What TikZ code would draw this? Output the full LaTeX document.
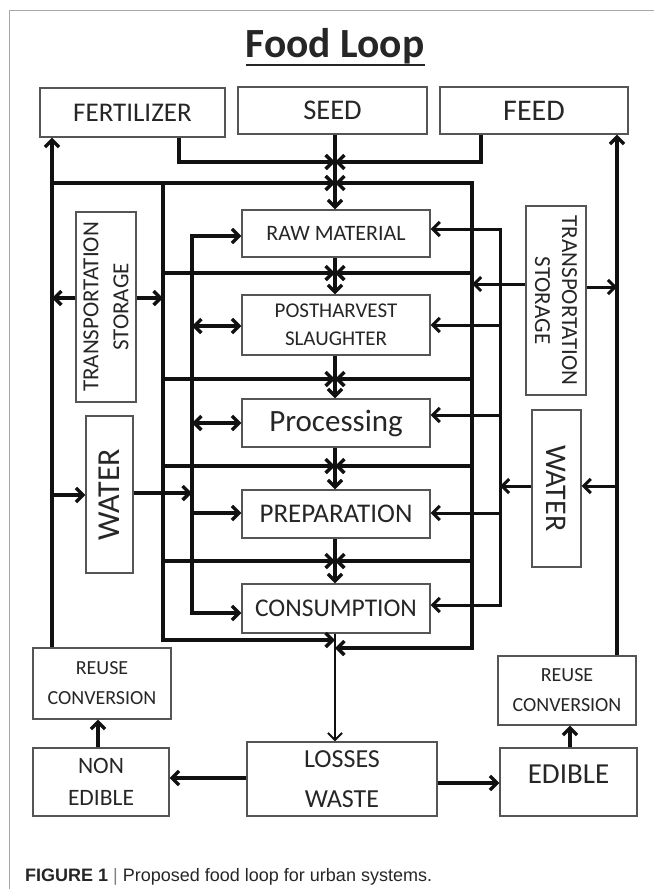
\documentclass[tikz,border=0pt]{standalone}
\usepackage{fontspec}
\setmainfont{Carlito}
\newfontfamily\capfont{Liberation Sans}
\usetikzlibrary{arrows.meta}
\definecolor{boxgray}{HTML}{555555}
\definecolor{txt}{HTML}{262626}
\definecolor{framegray}{HTML}{A8A8A8}
\definecolor{ink}{HTML}{111111}
\begin{document}
\begin{tikzpicture}[x=1pt,y=-1pt,
  >={Straight Barb[length=7pt,width=14pt]},
  box/.style={draw=boxgray,line width=1.3pt,inner sep=0pt,text=txt,align=center},
  lbl/.style={text=txt,align=center,inner sep=0pt},
  conn/.style={draw=ink,line width=3.4pt,line join=miter},
  conntwo/.style={draw=ink,line width=3pt,line join=miter},
  connthin/.style={draw=ink,line width=2pt},
  fs/.style n args={2}{font=\fontsize{#1}{#2}\selectfont},
]
\useasboundingbox (0,0) rectangle (654,889);
\draw[framegray,line width=1pt] (654,10) -- (9.5,10) -- (9.5,889);

% title
\node[lbl,inner sep=0pt,font=\fontsize{41.5}{44}\selectfont\bfseries] (title) at (335,46) {Food Loop};
\draw[txt,line width=2.6pt] (title.south west |- 0,65) -- (title.south east |- 0,65);

% top row
\node[box,minimum width=185,minimum height=49,fs={27}{30}] (fert) at (132.5,112.5) {FERTILIZER};
\node[box,minimum width=189,minimum height=47,fs={28.5}{30}] (seed) at (332.5,110.5) {SEED};
\node[box,minimum width=188,minimum height=47,fs={30}{30}] (feed) at (534,110.5) {FEED};

% centre column
\node[box,minimum width=188,minimum height=47,fs={22}{24}] (raw) at (336,233.5) {RAW MATERIAL};
\node[box,minimum width=188,minimum height=60,fs={21}{28}] (post) at (336,325) {POSTHARVEST\\SLAUGHTER};
\node[box,minimum width=188,minimum height=48,fs={31}{32}] (proc) at (336,423) {Processing};
\node[box,minimum width=188,minimum height=48,fs={27}{30}] (prep) at (336,514) {PREPARATION};
\node[box,minimum width=188,minimum height=49,fs={25.5}{30}] (cons) at (336,608.5) {CONSUMPTION};

% side boxes
\node[box,minimum width=60,minimum height=190] (tsL) at (106,307) {};
\node[lbl,rotate=90,fs={23}{30}] (tsLt) at (tsL.center) {TRANSPORTATION\\STORAGE};
\node[box,minimum width=47,minimum height=157] (waterL) at (109.5,494.5) {};
\node[lbl,rotate=90,fs={32}{32}] (waterLt) at (waterL.center) {WATER};
\node[box,minimum width=60,minimum height=189] (tsR) at (556,300.5) {};
\node[lbl,rotate=-90,fs={23}{27}] (tsRt) at (tsR.center) {TRANSPORTATION\\STORAGE};
\node[box,minimum width=49,minimum height=157] (waterR) at (556.5,488.5) {};
\node[lbl,rotate=-90,fs={30}{32}] (waterRt) at (waterR.center) {WATER};

% bottom boxes
\node[box,minimum width=138,minimum height=71,fs={20}{30}] (reuseL) at (102,683.5) {REUSE\\CONVERSION};
\node[box,minimum width=136,minimum height=68,fs={23.5}{32}] (nonEd) at (101,782) {NON\\EDIBLE};
\node[box,minimum width=190,minimum height=74,fs={26}{40}] (losses) at (342,779) {LOSSES\\WASTE};
\node[box,minimum width=138,minimum height=69,fs={20}{30}] (reuseR) at (567,690.5) {REUSE\\CONVERSION};
\node[box,minimum width=137,minimum height=68] (edible) at (568.5,782) {};
\node[lbl,fs={29}{32}] (edibleT) at (568.5,774) {EDIBLE};

\coordinate (C) at (335,0);

% centre chain
\draw[conn,->] (seed.south -| C) -- (raw.north -| C);
\draw[conn,->] (raw.south -| C) -- (post.north -| C);
\draw[conn,->] (post.south -| C) -- (proc.north -| C);
\draw[conn,->] (proc.south -| C) -- (prep.north -| C);
\draw[conn,->] (prep.south -| C) -- (cons.north -| C);
\draw[connthin,->] (cons.south -| C) -- (losses.north -| C);

% inputs
\draw[conn,->] (fert.south -| 179,0) -- (179,162) -- (C |- 0,162);
\draw[conn,->] (feed.south -| 481,0) -- (481,162) -- (C |- 0,162);

% outer loops
\draw[conn,->] (reuseL.north -| 52,0) -- (fert.south -| 52,0);
\draw[conn,->] (reuseR.north -| 617,0) -- (feed.south -| 617,0);
\draw[conn,->] (52,183) -- (C |- 0,183);

% left junction feeder
\draw[conn,->] (163,183) -- (163,640) -- (C |- 0,640);
\foreach \yy in {273,379,466,561} {\draw[conn,->] (163,\yy) -- (C |- 0,\yy);}

% right junction feeder
\draw[conn,<->] (C |- 0,183) -- (472,183) -- (472,648) -- (C |- 0,648);
\foreach \yy in {273,379,466,561} {\draw[conn,->] (472,\yy) -- (C |- 0,\yy);}

% left box feeder
\draw[conn,<->] (raw.west |- 0,236) -- (192,236) -- (192,613) -- (cons.west |- 0,613);
\draw[conn,<->] (192,326) -- (post.west |- 0,326);
\draw[conn,<->] (192,423) -- (proc.west |- 0,423);
\draw[conn,->] (192,513) -- (prep.west |- 0,513);

% right box feeder
\draw[conntwo,<->] (raw.east |- 0,229) -- (500,229) -- (500,605) -- (cons.east |- 0,605);
\draw[conntwo,->] (500,325) -- (post.east |- 0,325);
\draw[conntwo,->] (500,415) -- (proc.east |- 0,415);
\draw[conntwo,->] (500,513) -- (prep.east |- 0,513);

% transport / water
\draw[conn,->] (tsL.west |- 0,298) -- (52,298);
\draw[conn,->] (tsL.east |- 0,298) -- (163,298);
\draw[conn,->] (52,495) -- (waterL.west |- 0,495);
\draw[conn,->] (waterL.east |- 0,493) -- (192,493);
\draw[conntwo,->] (tsR.west |- 0,284) -- (472,284);
\draw[conntwo,->] (tsR.east |- 0,287) -- (617,287);
\draw[conntwo,->] (617,486) -- (waterR.east |- 0,486);
\draw[conntwo,->] (waterR.west |- 0,486) -- (500,486);

% bottom
\draw[conn,->] (losses.west |- 0,778) -- (nonEd.east |- 0,778);
\draw[conn,->] (losses.east |- 0,783) -- (edible.west |- 0,783);
\draw[conn,->] (nonEd.north -| 98,0) -- (reuseL.south -| 98,0);
\draw[conn,->] (edible.north -| 570,0) -- (reuseR.south -| 570,0);

% caption
\node[anchor=base west,inner sep=0pt,text=txt,font=\capfont\fontsize{18}{20}\selectfont] (cap) at (25,881)
  {\textbf{FIGURE 1} {\color{gray}|} Proposed food loop for urban systems.};
\end{tikzpicture}
\end{document}
